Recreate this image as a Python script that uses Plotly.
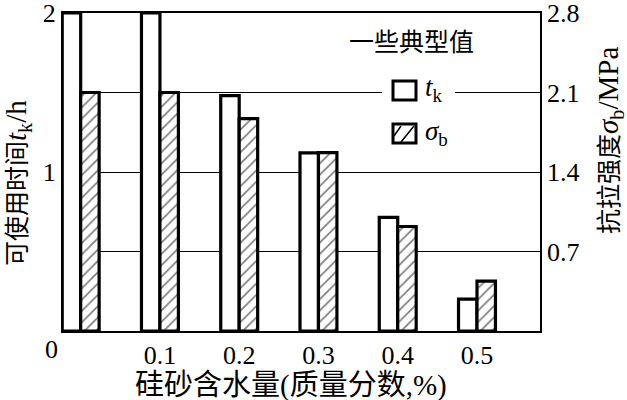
import plotly.graph_objects as go

# ---- data ----
water = [0.0, 0.1, 0.2, 0.3, 0.4, 0.5]          # 硅砂含水量 (%)
tk_hours = [2.0, 2.0, 1.48, 1.12, 0.715, 0.20]  # 可使用时间 t_k / h
sigma_b = [2.1, 2.1, 1.87, 1.57, 0.92, 0.44]    # 抗拉强度 σ_b / MPa
x_tickvals = [0.1, 0.2, 0.3, 0.4, 0.5]
x_ticktext = ["0.1", "0.2", "0.3", "0.4", "0.5"]
left_tickvals = [0.5, 1.0, 1.5, 2.0]
left_ticktext = ["", "1", "", "2"]
right_tickvals = [0.7, 1.4, 2.1, 2.8]
right_ticktext = ["0.7", "1.4", "2.1", "2.8"]

W, H = 627, 400
L, R, T, B = 63, 540, 13, 331  # plot area in pixels

def px(xp):
    return (xp - L) / (R - L)

def py(yp):
    return (B - yp) / (B - T)

SERIF = "'Liberation Serif', 'Noto Sans CJK SC', serif"
bw = 0.0233

fig = go.Figure()
fig.add_trace(go.Bar(
    x=water, y=tk_hours, offset=-bw, width=bw, name="t_k",
    marker=dict(color="white", line=dict(color="black", width=3.2)),
    yaxis="y", showlegend=False,
))
fig.add_trace(go.Bar(
    x=water, y=sigma_b, offset=0, width=bw, name="σ_b",
    marker=dict(color="white", line=dict(color="black", width=3.2),
                pattern=dict(shape="/", fgcolor="black", bgcolor="white",
                             size=8, solidity=0.22)),
    yaxis="y2", showlegend=False,
))

shapes = []
# white patch where the legend interrupts the gridline
shapes.append(dict(type="rect", xref="paper", yref="paper",
                   x0=px(382), x1=px(455), y0=py(99), y1=py(84),
                   fillcolor="white", line=dict(width=0), layer="above"))
# legend square for t_k
shapes.append(dict(type="rect", xref="paper", yref="paper",
                   x0=px(393), x1=px(416), y0=py(100), y1=py(81),
                   fillcolor="white", line=dict(color="black", width=3), layer="above"))
# legend square for sigma_b (hatched)
shapes.append(dict(type="rect", xref="paper", yref="paper",
                   x0=px(393), x1=px(416), y0=py(143), y1=py(124),
                   fillcolor="white", line=dict(color="black", width=3), layer="above"))
for (a, b, c, d) in [(394, 136, 401, 126), (401, 142, 414, 126)]:
    shapes.append(dict(type="line", xref="paper", yref="paper",
                       x0=px(a), y0=py(b), x1=px(c), y1=py(d),
                       line=dict(color="black", width=1.5), layer="above"))

def ann(text, x, y, size, angle=0, xanchor="center"):
    return dict(text=text, x=px(x), y=py(y), xref="paper", yref="paper",
                xanchor=xanchor, yanchor="middle", textangle=angle,
                showarrow=False, font=dict(family=SERIF, size=size, color="black"))

BIG = "<span style='font-size:29px'>"
annotations = [
    ann("一些典型值", 411, 43, 25),
    ann("<i>t</i><sub>k</sub>", 423, 89, 27, xanchor="left"),
    ann("<i>σ</i><sub>b</sub>", 423, 133, 27, xanchor="left"),
    ann("0", 51, 349, 26),
    ann("硅砂含水量(质量分数,%)", 291, 385, 29),
    ann("可使用时间" + BIG + "<i>t</i><sub>k</sub>/h</span>", 18, 183, 25, angle=-90),
    ann("抗拉强度" + BIG + "<i>σ</i><sub>b</sub>/MPa</span>", 610, 141, 25, angle=-90),
]

tickfont = dict(family="'Liberation Serif', serif", size=26, color="black")

fig.update_layout(
    width=W, height=H,
    margin=dict(l=L, r=W - R, t=T, b=H - B, pad=0),
    paper_bgcolor="white", plot_bgcolor="white",
    barmode="overlay",
    font=dict(family=SERIF, size=26, color="black"),
    xaxis=dict(range=[-0.0223, 0.5795], tickvals=x_tickvals, ticktext=x_ticktext,
               showgrid=False, zeroline=False, showline=True, linecolor="black",
               linewidth=2, mirror=True, ticks="", tickfont=tickfont,
               ticklabeloverflow="allow", automargin=False),
    yaxis=dict(range=[0, 2], tickvals=left_tickvals, ticktext=left_ticktext,
               showgrid=True, gridcolor="black", gridwidth=1.3, zeroline=False,
               showline=True, linecolor="black", linewidth=2, mirror=True,
               ticks="", tickfont=tickfont, ticklabeloverflow="allow",
               automargin=False),
    yaxis2=dict(range=[0, 2.8], tickvals=right_tickvals, ticktext=right_ticktext,
                overlaying="y", side="right", showgrid=False, zeroline=False,
                showline=False, ticks="", tickfont=tickfont,
                ticklabeloverflow="allow", automargin=False, ticklabelstandoff=6),
    shapes=shapes, annotations=annotations, showlegend=False,
)

fig.write_html("out.html")
